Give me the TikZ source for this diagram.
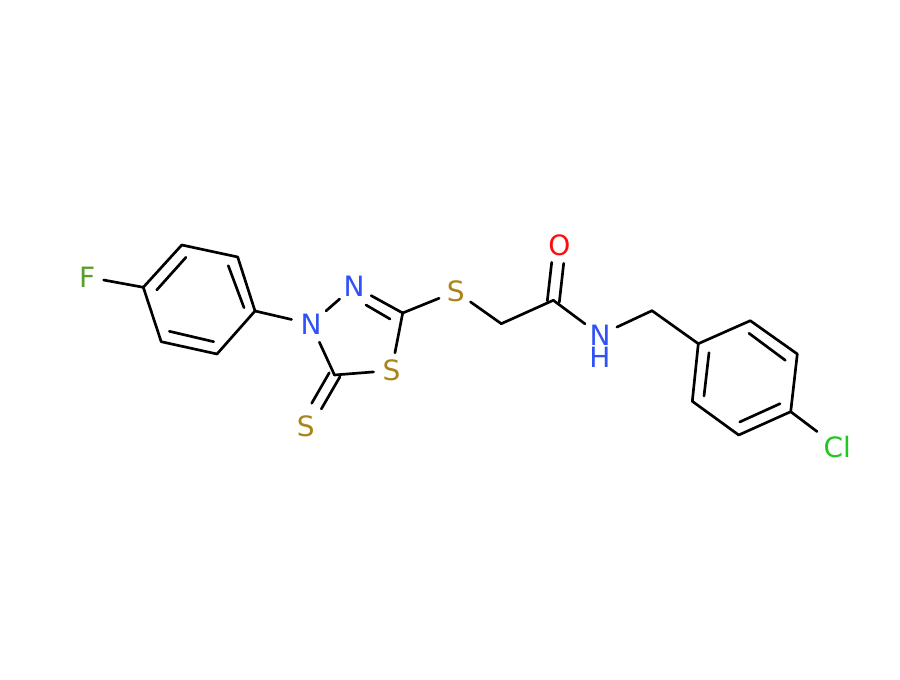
\documentclass[tikz,border=0pt]{standalone}
\usepackage{fontspec}
\setmainfont{DejaVu Sans}
\definecolor{colN}{HTML}{3050F8}
\definecolor{colS}{HTML}{A98518}
\definecolor{colF}{HTML}{5B9E2E}
\definecolor{colCl}{HTML}{1FC81F}
\definecolor{colO}{HTML}{FF0D0D}
\tikzset{
  atom/.style={circle,inner sep=0pt,outer sep=0pt,font=\fontsize{21pt}{22pt}\selectfont},
  bond/.style={draw=black,line width=2pt,line cap=round,line join=round}
}
\begin{document}
\begin{tikzpicture}[x=0.75pt,y=-0.75pt]
\useasboundingbox (0,0) rectangle (900,680);
\fill[white] (0,0) rectangle (900,680);
% heteroatoms
\node[atom,text=colF,minimum size=25pt] (F) at (87.2,277) {F};
\node[atom,text=colN,minimum size=30pt] (Na) at (311,324) {N};
\node[atom,text=colN,minimum size=29pt] (Nb) at (354.2,286.3) {N};
\node[atom,text=colS,minimum size=27pt] (Sr) at (391.5,370.5) {S};
\node[atom,text=colS,minimum size=27pt] (Sx) at (305.8,426.3) {S};
\node[atom,text=colS,minimum size=27pt] (Sb) at (455.8,291.5) {S};
\node[atom,text=colO,minimum size=27pt] (O) at (559.5,245.3) {O};
\node[atom,text=colN,minimum size=28pt] (Nh) at (600,335) {N};
\node[atom,text=colN] (Hh) at (600,357.3) {H};
\node[atom,text=colCl,minimum size=38pt] (Cl) at (837.3,446.8) {Cl};
% carbons
\coordinate (a1) at (143.3,287.3);
\coordinate (a2) at (181.8,245);
\coordinate (a3) at (237.7,257);
\coordinate (a4) at (255,311);
\coordinate (a5) at (217,354);
\coordinate (a6) at (161.2,341.7);
\coordinate (r1) at (402.7,313);
\coordinate (r2) at (334.5,375);
\coordinate (m1) at (501.3,323.7);
\coordinate (m2) at (553.3,300.3);
\coordinate (m3) at (652,310.7);
\coordinate (b1) at (698.3,343.7);
\coordinate (b2) at (750.3,320.7);
\coordinate (b3) at (797.3,354);
\coordinate (b4) at (790.7,411.7);
\coordinate (b5) at (738.7,435);
\coordinate (b6) at (692.3,401.3);
% ends of the second lines of double bonds
\coordinate (i1) at (156.7,290);
\coordinate (i2) at (186,257.3);
\coordinate (i3) at (228.3,265.7);
\coordinate (i4) at (244,307.7);
\coordinate (i5) at (213.7,341.7);
\coordinate (i6) at (169.3,331.3);
\coordinate (j1) at (709,352.7);
\coordinate (j2) at (704,396);
\coordinate (j3) at (749,333.3);
\coordinate (j4) at (785.3,360.3);
\coordinate (j5) at (780,403.7);
\coordinate (j6) at (739.7,422);
\coordinate (k1) at (366,305);
\coordinate (k2) at (390,319);
\coordinate (p1) at (329.3,372.7);
\coordinate (p2) at (311.7,403.3);
\coordinate (q1) at (340,376.7);
\coordinate (q2) at (321.3,409);
\coordinate (u1) at (547.3,301);
\coordinate (u2) at (551.7,262.3);
\coordinate (v1) at (559.3,302.3);
\coordinate (v2) at (563.7,263.3);
% fluorophenyl
\draw[bond] (a1)--(a2)--(a3)--(a4)--(a5)--(a6)--cycle;
\draw[bond] (i1)--(i2);
\draw[bond] (i3)--(i4);
\draw[bond] (i5)--(i6);
\draw[bond] (F)--(a1);
\draw[bond] (a4)--(Na);
% thiadiazole
\draw[bond] (Na)--(Nb);
\draw[bond] (Nb)--(r1);
\draw[bond] (k1)--(k2);
\draw[bond] (r1)--(Sr);
\draw[bond] (Sr)--(r2);
\draw[bond] (r2)--(Na);
\draw[bond] (p1)--(p2);
\draw[bond] (q1)--(q2);
% chain
\draw[bond] (r1)--(Sb);
\draw[bond] (Sb)--(m1);
\draw[bond] (m1)--(m2);
\draw[bond] (u1)--(u2);
\draw[bond] (v1)--(v2);
\draw[bond] (m2)--(Nh);
\draw[bond] (Nh)--(m3);
\draw[bond] (m3)--(b1);
% chlorophenyl
\draw[bond] (b1)--(b2)--(b3)--(b4)--(b5)--(b6)--cycle;
\draw[bond] (j1)--(j2);
\draw[bond] (j3)--(j4);
\draw[bond] (j5)--(j6);
\draw[bond] (b4)--(Cl);
\end{tikzpicture}
\end{document}
